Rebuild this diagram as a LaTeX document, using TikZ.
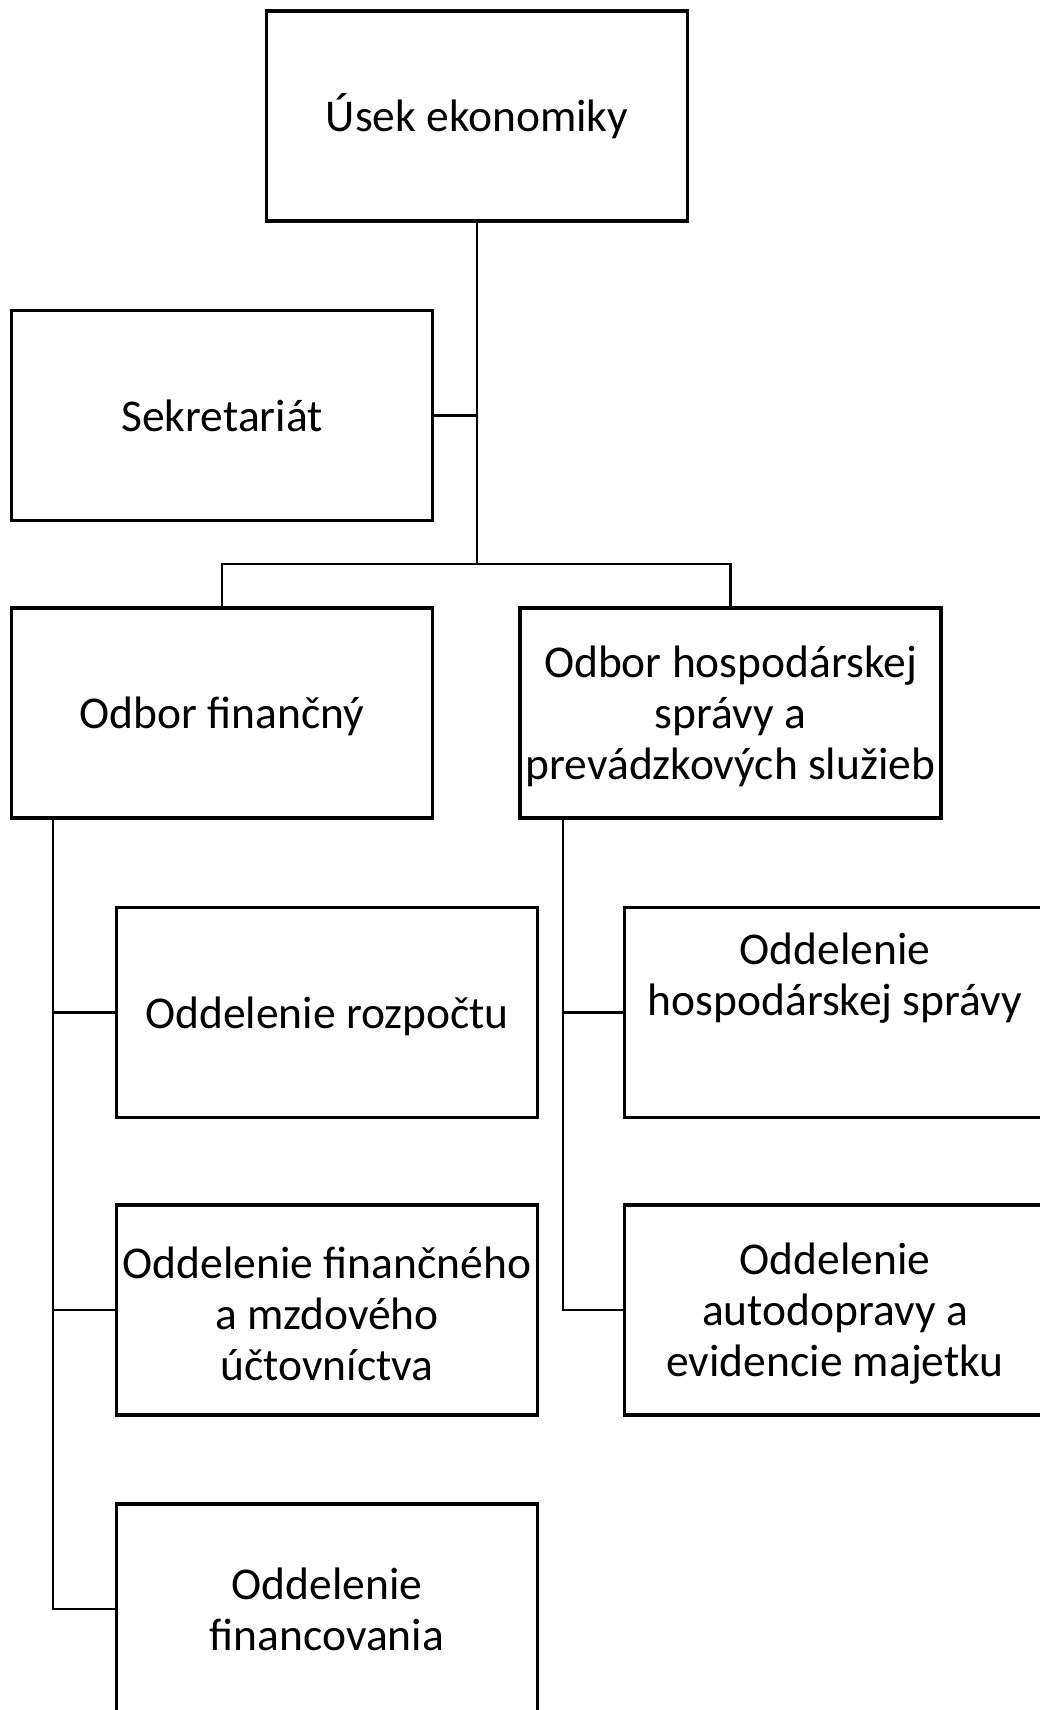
\documentclass[tikz,border=0pt]{standalone}
\usepackage{fontspec}
\setmainfont{Carlito}
\newcommand{\lowtext}[1]{\raisebox{-3.5pt}[\height][\depth]{\parbox{420pt}{\centering #1}}}
\begin{document}
\begin{tikzpicture}[x=1pt,y=-1pt,
  orgbox/.style={draw=black,line width=3.2pt,minimum width=421pt,minimum height=210pt,
    inner sep=0pt,outer sep=0pt,align=center,font=\fontsize{45.5}{51}\selectfont},
  plain/.style={inner sep=0pt,align=center,font=\fontsize{45.5}{51}\selectfont},
  conn/.style={line width=2.9pt,line cap=rect}]
\clip (0,0) rectangle (1040,1710);
\fill[white] (0,0) rectangle (1040,1710);
\node[orgbox] (top) at (477,116) {Úsek ekonomiky};
\node[orgbox] (sek) at (222,415.5) {Sekretariát};
\node[orgbox] (fin) at (222,713) {\lowtext{Odbor finančný}};
\node[orgbox] (hosp) at (730.5,713) {\lowtext{Odbor hospodárskej\\správy a\\prevádzkových služieb}};
\node[orgbox] (roz) at (327,1012.5) {\lowtext{Oddelenie rozpočtu}};
\node[orgbox] (fmz) at (327,1310) {\lowtext{Oddelenie finančného\\a mzdového\\účtovníctva}};
\node[orgbox] (fnc) at (327,1609) {Oddelenie\\financovania};
\node[orgbox] (hsp) at (835,1012.5) {};
\node[plain] (hsptext) at (835,978) {Oddelenie\\hospodárskej správy};
\node[orgbox] (aut) at (835,1310) {\lowtext{Oddelenie\\autodopravy a\\evidencie majetku}};
\coordinate (bus) at (477,564);
\coordinate (ls) at (53,818);
\coordinate (rs) at (563,818);
\draw[conn] (top.south) -- (bus);
\draw[conn] (sek.east) -- (sek.east -| bus);
\draw[conn] (fin.north) |- (bus) -| (hosp.north);
\draw[conn] (ls) |- (fnc.west);
\draw[conn] (ls |- roz.west) -- (roz.west);
\draw[conn] (ls |- fmz.west) -- (fmz.west);
\draw[conn] (rs) |- (aut.west);
\draw[conn] (rs |- hsp.west) -- (hsp.west);
\end{tikzpicture}
\end{document}
